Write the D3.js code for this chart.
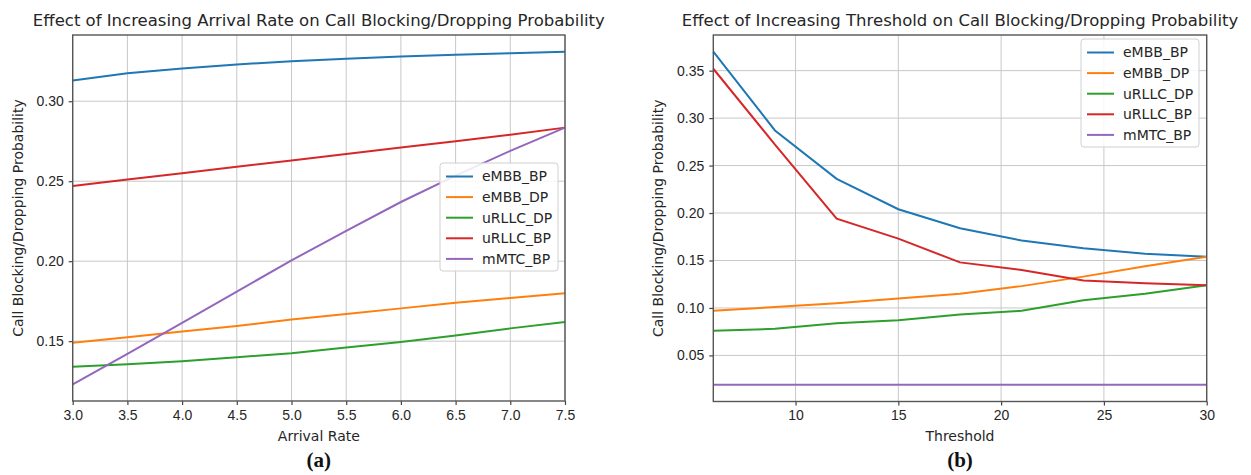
<!DOCTYPE html>
<meta charset="utf-8">
<style>
  body { margin: 0; background: #fff; }
  svg { font-family: "DejaVu Sans", sans-serif; }
  .tick text { fill: #262626; font-size: 14px; }
  .grid line { stroke: #c8c8c8; stroke-width: 1; }
</style>
<script src="https://d3js.org/d3.v7.min.js"></script>
<body>
<svg id="chart" width="1251" height="475"></svg>
<script>
// ---- data, panel (a)
var arrivalRate = [3.0, 3.5, 4.0, 4.5, 5.0, 5.5, 6.0, 6.5, 7.0, 7.5];
var eMBB_BP_a  = [0.313, 0.3175, 0.3205, 0.323, 0.325, 0.3265, 0.328, 0.329, 0.330, 0.331];
var eMBB_DP_a  = [0.149, 0.1525, 0.156, 0.1595, 0.1635, 0.167, 0.1705, 0.174, 0.177, 0.180];
var uRLLC_DP_a = [0.134, 0.1355, 0.1375, 0.140, 0.1425, 0.146, 0.1495, 0.1535, 0.158, 0.162];
var uRLLC_BP_a = [0.247, 0.251, 0.255, 0.259, 0.263, 0.267, 0.271, 0.275, 0.279, 0.2835];
var mMTC_BP_a  = [0.123, 0.142, 0.1615, 0.181, 0.2005, 0.219, 0.237, 0.2535, 0.269, 0.2835];
var xTicksA = [3.0, 3.5, 4.0, 4.5, 5.0, 5.5, 6.0, 6.5, 7.0, 7.5];
var yTicksA = [0.15, 0.20, 0.25, 0.30];

// ---- data, panel (b)
var threshold = [6, 9, 12, 15, 18, 21, 24, 27, 30];
var eMBB_BP_b  = [0.370, 0.287, 0.236, 0.204, 0.184, 0.171, 0.163, 0.157, 0.154];
var eMBB_DP_b  = [0.097, 0.101, 0.105, 0.110, 0.115, 0.123, 0.133, 0.144, 0.154];
var uRLLC_DP_b = [0.076, 0.078, 0.084, 0.087, 0.093, 0.097, 0.108, 0.115, 0.124];
var uRLLC_BP_b = [0.352, 0.272, 0.194, 0.173, 0.148, 0.140, 0.129, 0.126, 0.124];
var mMTC_BP_b  = [0.019, 0.019, 0.019, 0.019, 0.019, 0.019, 0.019, 0.019, 0.019];
var xTicksB = [10, 15, 20, 25, 30];
var yTicksB = [0.05, 0.10, 0.15, 0.20, 0.25, 0.30, 0.35];

var seriesNames = ["eMBB_BP", "eMBB_DP", "uRLLC_DP", "uRLLC_BP", "mMTC_BP"];
var colors = ["#1f77b4", "#ff7f0e", "#2ca02c", "#d62728", "#9467bd"];

var svg = d3.select("#chart");

function drawPanel(cfg) {
  var g = svg.append("g");
  var x = d3.scaleLinear().domain(d3.extent(cfg.x)).range([cfg.left, cfg.right]);

  var all = d3.merge(cfg.series);
  var lo = d3.min(all), hi = d3.max(all), pad = (hi - lo) * 0.05;
  var y = d3.scaleLinear().domain([lo - pad, hi + pad]).range([cfg.bottom, cfg.top]);

  // grid
  g.append("g").attr("class", "grid").selectAll("line").data(cfg.xTicks).join("line")
    .attr("x1", d => x(d)).attr("x2", d => x(d)).attr("y1", cfg.top).attr("y2", cfg.bottom);
  g.append("g").attr("class", "grid").selectAll("line").data(cfg.yTicks).join("line")
    .attr("y1", d => y(d)).attr("y2", d => y(d)).attr("x1", cfg.left).attr("x2", cfg.right);

  // lines
  var line = d3.line().x((d, i) => x(cfg.x[i])).y(d => y(d));
  cfg.series.forEach((s, k) => {
    g.append("path").datum(s).attr("d", line)
      .attr("fill", "none").attr("stroke", colors[k]).attr("stroke-width", 2);
  });

  // axes
  var xa = g.append("g").attr("transform", "translate(0," + cfg.bottom + ")")
    .call(d3.axisBottom(x).tickValues(cfg.xTicks).tickFormat(cfg.xFmt).tickSize(4).tickPadding(5));
  var ya = g.append("g").attr("transform", "translate(" + cfg.left + ",0)")
    .call(d3.axisLeft(y).tickValues(cfg.yTicks).tickFormat(d3.format(".2f")).tickSize(4).tickPadding(5));
  [xa, ya].forEach(a => {
    a.select(".domain").remove();
    a.selectAll(".tick line").attr("stroke", "#444").attr("stroke-width", 1.2);
  });

  // frame
  g.append("rect").attr("x", cfg.left).attr("y", cfg.top)
    .attr("width", cfg.right - cfg.left).attr("height", cfg.bottom - cfg.top)
    .attr("fill", "none").attr("stroke", "#555").attr("stroke-width", 1.4);

  var cx = (cfg.left + cfg.right) / 2;
  g.append("text").attr("x", cx).attr("y", 26).attr("text-anchor", "middle")
    .attr("fill", "#262626").style("font-size", "16.5px").text(cfg.title);
  g.append("text").attr("x", cx).attr("y", 441).attr("text-anchor", "middle")
    .attr("fill", "#262626").style("font-size", "14px").text(cfg.xLabel);
  g.append("text").attr("transform", "translate(" + cfg.yLabelX + "," + ((cfg.top + cfg.bottom) / 2) + ") rotate(-90)")
    .attr("text-anchor", "middle").attr("dy", "0.35em")
    .attr("fill", "#262626").style("font-size", "14px").text("Call Blocking/Dropping Probability");
  g.append("text").attr("x", cx).attr("y", 467).attr("text-anchor", "middle")
    .style("font-family", "'Liberation Serif', serif").style("font-weight", "bold").style("font-size", "21px")
    .attr("fill", "#111").text(cfg.tag);

  // legend
  var lg = g.append("g").attr("transform", "translate(" + cfg.legX + "," + cfg.legY + ")");
  lg.append("rect").attr("width", 118).attr("height", 108).attr("rx", 3)
    .attr("fill", "#fff").attr("fill-opacity", 0.85).attr("stroke", "#d0d0d0");
  seriesNames.forEach((n, k) => {
    var yy = 13.5 + k * 20.6;
    lg.append("line").attr("x1", 6).attr("x2", 33).attr("y1", yy).attr("y2", yy)
      .attr("stroke", colors[k]).attr("stroke-width", 2);
    lg.append("text").attr("x", 42).attr("y", yy).attr("dy", "0.35em")
      .attr("fill", "#262626").style("font-size", "14px").text(n);
  });
}

drawPanel({
  x: arrivalRate, series: [eMBB_BP_a, eMBB_DP_a, uRLLC_DP_a, uRLLC_BP_a, mMTC_BP_a],
  xTicks: xTicksA, yTicks: yTicksA, xFmt: d3.format(".1f"),
  left: 72.7, right: 565, top: 35, bottom: 401,
  title: "Effect of Increasing Arrival Rate on Call Blocking/Dropping Probability",
  xLabel: "Arrival Rate", yLabelX: 18, tag: "(a)", legX: 440, legY: 163
});

drawPanel({
  x: threshold, series: [eMBB_BP_b, eMBB_DP_b, uRLLC_DP_b, uRLLC_BP_b, mMTC_BP_b],
  xTicks: xTicksB, yTicks: yTicksB, xFmt: d3.format("d"),
  left: 713.3, right: 1206.7, top: 35, bottom: 401.5,
  title: "Effect of Increasing Threshold on Call Blocking/Dropping Probability",
  xLabel: "Threshold", yLabelX: 658, tag: "(b)", legX: 1081, legY: 39
});
</script>
</body>
